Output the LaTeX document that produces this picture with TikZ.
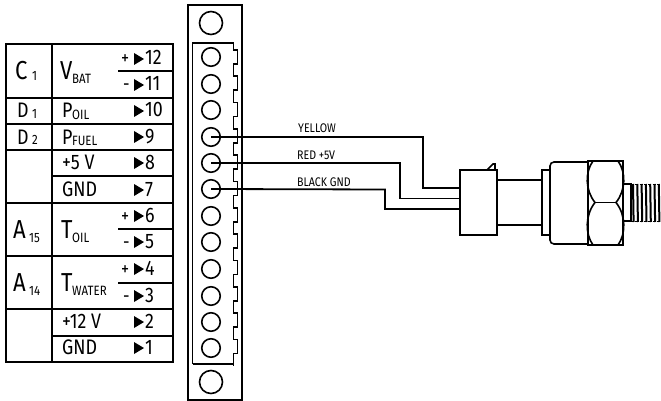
\documentclass[tikz,border=0pt]{standalone}
\usepackage{fontspec}
\setmainfont[FakeStretch=0.85]{Fira Sans}
\tikzset{
 ln/.style={line width=1.6pt,line join=miter},
 wire/.style={line width=1.8pt,line join=miter},
 pin/.style={circle,draw,line width=1.6pt,minimum size=18.5pt,inner sep=0},
 bigpin/.style={circle,draw,line width=1.6pt,minimum size=23pt,inner sep=0},
 sensor/.style={draw,line width=1.6pt},
 tri/.style={fill=black},
 cell/.style={anchor=base west,inner sep=0,font=\fontsize{21}{21}\selectfont},
 big/.style={cell,font=\fontsize{26}{26}\selectfont},
 sign/.style={cell,font=\fontsize{19}{19}\selectfont},
 sub/.style={anchor=base west,inner sep=0,font=\fontsize{13.5}{13.5}\selectfont},
 wirelbl/.style={anchor=base west,inner sep=0,font=\fontsize{12.5}{12.5}\selectfont}
}
\begin{document}
\begin{tikzpicture}[x=1pt,y=-1pt]
\useasboundingbox (0,0) rectangle (661,401);
% table
\draw[ln] (6,44) rectangle (173,362);
\draw[ln] (52,44) -- (52,362);
\foreach \y in {98,124,150,203,256,309} \draw[ln] (6,\y) -- (173,\y);
\foreach \y in {176,336} \draw[ln] (52,\y) -- (173,\y);
\foreach \y in {71,229,283} \draw[ln] (118,\y) -- (173,\y);
% triangles
\foreach \y in {59,85,111,137,163,190,216,242,269,296,322,348}
  \fill[tri] (134,\y-6) -- (144,\y) -- (134,\y+6) -- cycle;
% numbers
\foreach \y/\t in {65/12,91/11,117/10,143/9,169/8,196/7,222/6,248/5,275/4,302/3,328/2,354/1}
  \node[cell] at (145,\y) {\t};
\foreach \y in {65,222,275} \node[sign] at (121,\y) {+};
\foreach \y in {91,248,302} \node[sign] at (123,\y) {-};
% left column
\node[big] at (15,80) {C};
\node[sub] at (32,81) {1};
\node[cell] at (17,118) {D}; \node[sub] at (32,119) {1};
\node[cell] at (17,144) {D}; \node[sub] at (32,145) {2};
\node[big] at (13,238) {A}; \node[sub] at (29,242) {15};
\node[big] at (13,291) {A}; \node[sub] at (29,295) {14};
% second column
\node[big] at (60,80) {V}; \node[sub] at (72,84) {BAT};
\node[cell] at (62,118) {P}; \node[sub] at (72,120) {OIL};
\node[cell] at (62,144) {P}; \node[sub] at (72,146) {FUEL};
\node[cell] at (62,169) {+5 V};
\node[cell] at (62,196) {GND};
\node[big] at (61,238) {T}; \node[sub] at (72,242) {OIL};
\node[big] at (61,291) {T}; \node[sub] at (72,295) {WATER};
\node[cell] at (62,328) {+12 V};
\node[cell] at (62,354) {GND};
% terminal block
\draw[ln] (188,400) -- (188,5) -- (242,5) -- (242,400) -- cycle;
\draw[ln] (192.5,364) -- (192.5,43) -- (233.5,43) -- (233.5,50)
  \foreach \k in {0,...,11} {-- (237.5,{50+26.3*\k}) -- (237.5,{64+26.3*\k}) -- (233.5,{64+26.3*\k})
   -- (233.5,{76.3+26.3*\k})}
  ;
\draw[ln] (233.5,355) -- (233.5,364) -- (192.5,364);
\node[bigpin] (top) at (211,23) {};
\node[bigpin] (bot) at (211,382) {};
\foreach \n/\y in {12/57,11/84,10/110,9/137,8/163,7/189,6/216,5/242,4/269,3/296,2/322,1/348}
  \node[pin] (p\n) at (211,\y) {};
% sensor
\node[sensor,minimum width=37pt,minimum height=65pt,inner sep=0] (plug) at (478.5,202.5) {};
\draw[ln] (487,170) -- (493,164) -- (495,164) -- (495,170);
\draw[ln] (497,180) -- (542,180) (497,225) -- (542,225);
\draw[ln] (542,170) rectangle (550,235);
\draw[ln,rounded corners=4pt] (588,162) -- (550,162) -- (550,244) -- (588,244);
\draw[ln] (588,161) rectangle (623,245);
\draw[ln] (595,202.5) -- (616,202.5);
\draw[ln] (593,161) .. controls (585,172) and (585,190) .. (595,202.5)
 .. controls (585,215) and (585,234) .. (593,245);
\draw[ln] (618,161) .. controls (626,172) and (626,190) .. (616,202.5)
 .. controls (626,215) and (626,234) .. (618,245);
\draw[ln] (623,184) -- (631,184) -- (631,221) -- (623,221);
\foreach \x in {633,637.3,...,660} {
 \draw[line width=2pt] (\x,184) -- (\x+0.6,222);
}
\draw[line width=1pt,dash pattern=on 3pt off 1.3pt] (631,184.5) -- (661,184.5) (631,221.5) -- (661,221.5);
% wires
\coordinate (ya) at (460,188);
\coordinate (ra) at (460,198.5);
\coordinate (ba) at (460,209);
\draw[wire] (p9.center) -- (423,137) -- (423,188) -- (ya);
\draw[wire] (p8.center) -- (400,163) -- (400,198.5) -- (ra);
\draw[wire] (p7.center) -- (385,189.5) -- (385,209) -- (ba);
\node[wirelbl] at (298,133) {YELLOW};
\node[wirelbl] at (297,159) {RED +5V};
\node[wirelbl] at (297,186) {BLACK GND};
\end{tikzpicture}
\end{document}
